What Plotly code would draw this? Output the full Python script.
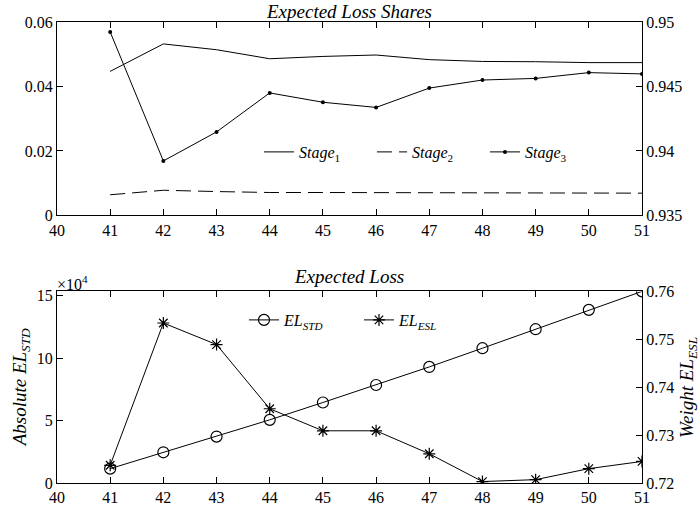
import plotly.graph_objects as go

# Horizon (years) shared by both panels
years = [41, 42, 43, 44, 45, 46, 47, 48, 49, 50, 51]

# Expected loss shares by stage
stage1 = [0.94617, 0.9483, 0.94785, 0.94715, 0.94733, 0.94744, 0.94708, 0.94694, 0.94692, 0.94685, 0.94685]
stage2 = [0.0064, 0.0078, 0.0074, 0.0071, 0.0071, 0.0071, 0.0070, 0.0070, 0.0070, 0.0069, 0.0069]
stage3 = [0.0569, 0.0169, 0.0259, 0.0380, 0.0351, 0.0335, 0.0395, 0.0420, 0.0425, 0.0443, 0.0439]

# Expected loss: absolute standard EL (x 10^4) and ESL weight
el_std = [1.15, 2.46, 3.72, 5.06, 6.45, 7.85, 9.30, 10.80, 12.32, 13.87, 15.35]
el_esl = [0.7237, 0.7534, 0.7489, 0.7355, 0.7309, 0.7309, 0.7261, 0.7203, 0.7207, 0.7230, 0.7245]

x_ticks = [40, 41, 42, 43, 44, 45, 46, 47, 48, 49, 50, 51]
top_left_ticks = [0, 0.02, 0.04, 0.06]
top_left_text = ["0", "0.02", "0.04", "0.06"]
top_right_ticks = [0.935, 0.94, 0.945, 0.95]
top_right_text = ["0.935", "0.94", "0.945", "0.95"]
bot_left_ticks = [0, 5, 10, 15]
bot_right_ticks = [0.72, 0.73, 0.74, 0.75, 0.76]
bot_right_text = ["0.72", "0.73", "0.74", "0.75", "0.76"]

W, H = 699, 516
FONT = "'Liberation Serif', 'DejaVu Serif', serif"
BLACK = "#000000"

# Plot frame in pixels
L, R, T, B = 57.3, 641.7, 22.3, 483.3
TOP_BOTTOM, BOT_TOP = 215.7, 291.7
frame_w = R - L
frame_h = B - T


def fx(p):
    # pixel column -> fraction of the plotting frame (from its left)
    return (p - L) / frame_w


def fy(p):
    # pixel row -> fraction of the plotting frame (from its bottom)
    return (B - p) / frame_h


top_dom = [fy(TOP_BOTTOM), 1.0]
bot_dom = [0.0, fy(BOT_TOP)]

fig = go.Figure()

# Upper panel: stage shares
fig.add_trace(go.Scatter(x=years, y=stage1, mode="lines", name="<i>Stage</i><sub>1</sub>",
                         line=dict(color=BLACK, width=1), xaxis="x", yaxis="y2", legend="legend"))
fig.add_trace(go.Scatter(x=years, y=stage2, mode="lines", name="<i>Stage</i><sub>2</sub>",
                         line=dict(color=BLACK, width=1, dash="15px,7px"), xaxis="x", yaxis="y", legend="legend"))
fig.add_trace(go.Scatter(x=years, y=stage3, mode="lines+markers", name="<i>Stage</i><sub>3</sub>",
                         line=dict(color=BLACK, width=1), marker=dict(color=BLACK, size=4),
                         xaxis="x", yaxis="y", legend="legend"))

# Lower panel: expected loss
fig.add_trace(go.Scatter(x=years, y=el_std, mode="lines+markers", name="<i>EL<sub>STD</sub></i>",
                         line=dict(color=BLACK, width=1),
                         marker=dict(symbol="circle-open", size=11, color=BLACK, line=dict(width=1.2)),
                         xaxis="x2", yaxis="y3", legend="legend2"))
fig.add_trace(go.Scatter(x=years, y=el_esl, mode="lines+markers", name="<i>EL<sub>ESL</sub></i>",
                         line=dict(color=BLACK, width=1),
                         marker=dict(symbol="asterisk-open", size=10, color=BLACK, line=dict(width=1.2, color=BLACK)),
                         xaxis="x2", yaxis="y4", legend="legend2"))

tickfont = dict(family=FONT, size=16, color=BLACK)
common_x = dict(range=[40, 51], tickvals=x_ticks, ticks="inside", ticklen=6, tickwidth=1,
                tickcolor=BLACK, showline=True, linecolor=BLACK, linewidth=1, mirror="ticks",
                showgrid=False, zeroline=False, tickfont=tickfont, domain=[0, 1], automargin=False)
common_y = dict(ticks="inside", ticklen=6, tickwidth=1, tickcolor=BLACK, showline=True,
                linecolor=BLACK, linewidth=1, showgrid=False, zeroline=False, tickfont=tickfont,
                automargin=False)

legend_font = dict(family=FONT, size=16, color=BLACK)

fig.update_layout(
    width=W, height=H,
    margin=dict(l=L, r=W - R, t=T, b=H - B, pad=0, autoexpand=False),
    paper_bgcolor="white", plot_bgcolor="white",
    font=dict(family=FONT, size=16, color=BLACK),
    xaxis=dict(common_x, anchor="y"),
    xaxis2=dict(common_x, anchor="y3"),
    yaxis=dict(common_y, domain=top_dom, range=[0, 0.06], tickvals=top_left_ticks,
               ticktext=top_left_text, anchor="x"),
    yaxis2=dict(common_y, domain=top_dom, range=[0.935, 0.95], tickvals=top_right_ticks,
                ticktext=top_right_text, overlaying="y", side="right", anchor="x"),
    yaxis3=dict(common_y, domain=bot_dom, range=[0, 15.35], tickvals=bot_left_ticks, anchor="x2"),
    yaxis4=dict(common_y, domain=bot_dom, range=[0.72, 0.76], tickvals=bot_right_ticks,
                ticktext=bot_right_text, overlaying="y3", side="right", anchor="x2"),
    legend=dict(orientation="h", x=259 / W, y=1 - 152 / H, xref="container", yref="container",
                xanchor="left", yanchor="middle",
                bgcolor="rgba(0,0,0,0)", font=legend_font, borderwidth=0,
                entrywidth=68, entrywidthmode="pixels", itemwidth=30),
    legend2=dict(orientation="h", x=244 / W, y=1 - 320 / H, xref="container", yref="container",
                 xanchor="left", yanchor="middle",
                 bgcolor="rgba(0,0,0,0)", font=legend_font, borderwidth=0,
                 entrywidth=70, entrywidthmode="pixels", itemwidth=30),
    showlegend=True,
)


def label(text, px, py, size, angle=0, xanchor="center", yanchor="middle"):
    return dict(text=text, x=fx(px), y=fy(py), xref="paper", yref="paper", showarrow=False,
                xanchor=xanchor, yanchor=yanchor, textangle=angle, borderpad=0,
                font=dict(family=FONT, size=size, color=BLACK))


fig.update_layout(annotations=[
    label("<i>Expected Loss Shares</i>", 349, 0, 19, yanchor="top"),
    label("<i>Expected Loss</i>", 349, 277, 19),
    label("\u00d710<sup>4</sup>", 56, 283, 16, xanchor="left"),
    label("<i>Absolute EL<sub>STD</sub></i>", 21, 388, 19, angle=-90),
    label("<i>Weight EL<sub>ESL</sub></i>", 687, 388, 19, angle=-90),
])

fig.write_html("out.html")
